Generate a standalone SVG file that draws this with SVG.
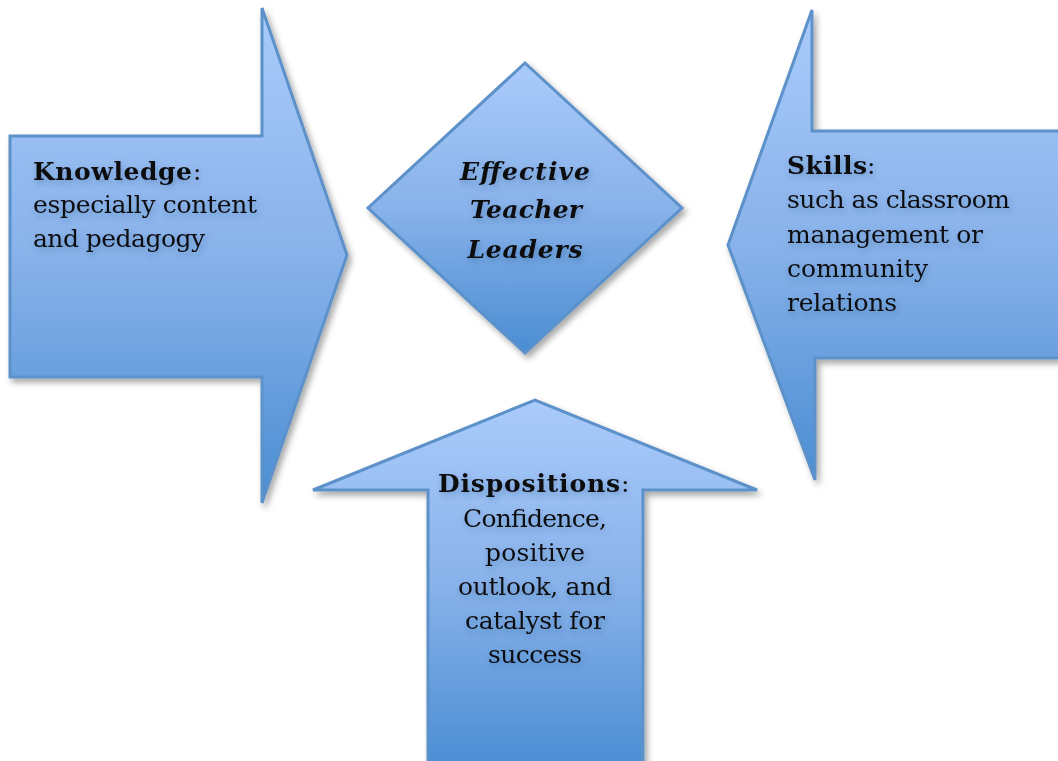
<svg xmlns="http://www.w3.org/2000/svg" width="1058" height="761" viewBox="0 0 1058 761">
  <defs>
    <linearGradient id="blueFill" x1="0" y1="0" x2="0" y2="1">
      <stop offset="0" stop-color="#aacbfb"/>
      <stop offset="0.5" stop-color="#88b2ea"/>
      <stop offset="1" stop-color="#4a8dd3"/>
    </linearGradient>
    <filter id="shapeShadow" x="-10%" y="-10%" width="125%" height="125%">
      <feDropShadow dx="3" dy="4" stdDeviation="3" flood-color="#000" flood-opacity="0.35"/>
    </filter>
    <filter id="textGlow" x="-10%" y="-30%" width="120%" height="170%">
      <feDropShadow dx="1.5" dy="3" stdDeviation="3" flood-color="#1d3b66" flood-opacity="0.3"/>
    </filter>
  </defs>
  <style>
    .shape { fill: url(#blueFill); stroke: #5c91c9; stroke-width: 3; stroke-linejoin: miter; filter: url(#shapeShadow); }
    .txt { font-family: "DejaVu Serif", "Liberation Serif", serif; font-size: 25px; fill: #111; filter: url(#textGlow); }
    .title { font-weight: bold; }
    .center { font-family: "DejaVu Serif", "Liberation Serif", serif; font-size: 25px; font-weight: bold; font-style: italic; fill: #111; text-anchor: middle; filter: url(#textGlow); }
    .mid { text-anchor: middle; }
  </style>

  <rect width="1058" height="761" fill="#ffffff"/>

  <!-- Knowledge: right-pointing arrow -->
  <g id="knowledge">
    <polygon class="shape" points="10,136 262,136 262,8 347,255 262,503 262,377 10,377"/>
    <text class="txt title" x="33" y="180" textLength="159">Knowledge</text>
    <text class="txt" x="193" y="180">:</text>
    <text class="txt" x="33" y="213" textLength="224">especially content</text>
    <text class="txt" x="33" y="247" textLength="172">and pedagogy</text>
  </g>

  <!-- Effective Teacher Leaders: diamond -->
  <g id="center">
    <polygon class="shape" points="525,63 682,208 525,353 368,208"/>
    <text class="center" x="525" y="180" textLength="130">Effective</text>
    <text class="center" x="526" y="218" textLength="112">Teacher</text>
    <text class="center" x="525" y="258" textLength="115">Leaders</text>
  </g>

  <!-- Skills: left-pointing arrow -->
  <g id="skills">
    <polygon class="shape" points="1070,131 812,131 812,10 728,245 815,480 815,358 1070,358"/>
    <text class="txt title" x="787" y="174" textLength="80">Skills</text>
    <text class="txt" x="867" y="174">:</text>
    <text class="txt" x="787" y="208" textLength="223">such as classroom</text>
    <text class="txt" x="787" y="243" textLength="196">management or</text>
    <text class="txt" x="787" y="277" textLength="141">community</text>
    <text class="txt" x="787" y="311" textLength="110">relations</text>
  </g>

  <!-- Dispositions: upward arrow -->
  <g id="dispositions">
    <polygon class="shape" points="428,770 428,490 313,490 535,400 757,490 643,490 643,770"/>
    <text class="txt title" x="438" y="492" textLength="182">Dispositions</text>
    <text class="txt" x="621" y="492">:</text>
    <text class="txt mid" x="535" y="527" textLength="144">Confidence,</text>
    <text class="txt mid" x="535" y="561" textLength="100">positive</text>
    <text class="txt mid" x="535" y="595" textLength="154">outlook, and</text>
    <text class="txt mid" x="535" y="629" textLength="140">catalyst for</text>
    <text class="txt mid" x="535" y="663" textLength="94">success</text>
  </g>
</svg>
